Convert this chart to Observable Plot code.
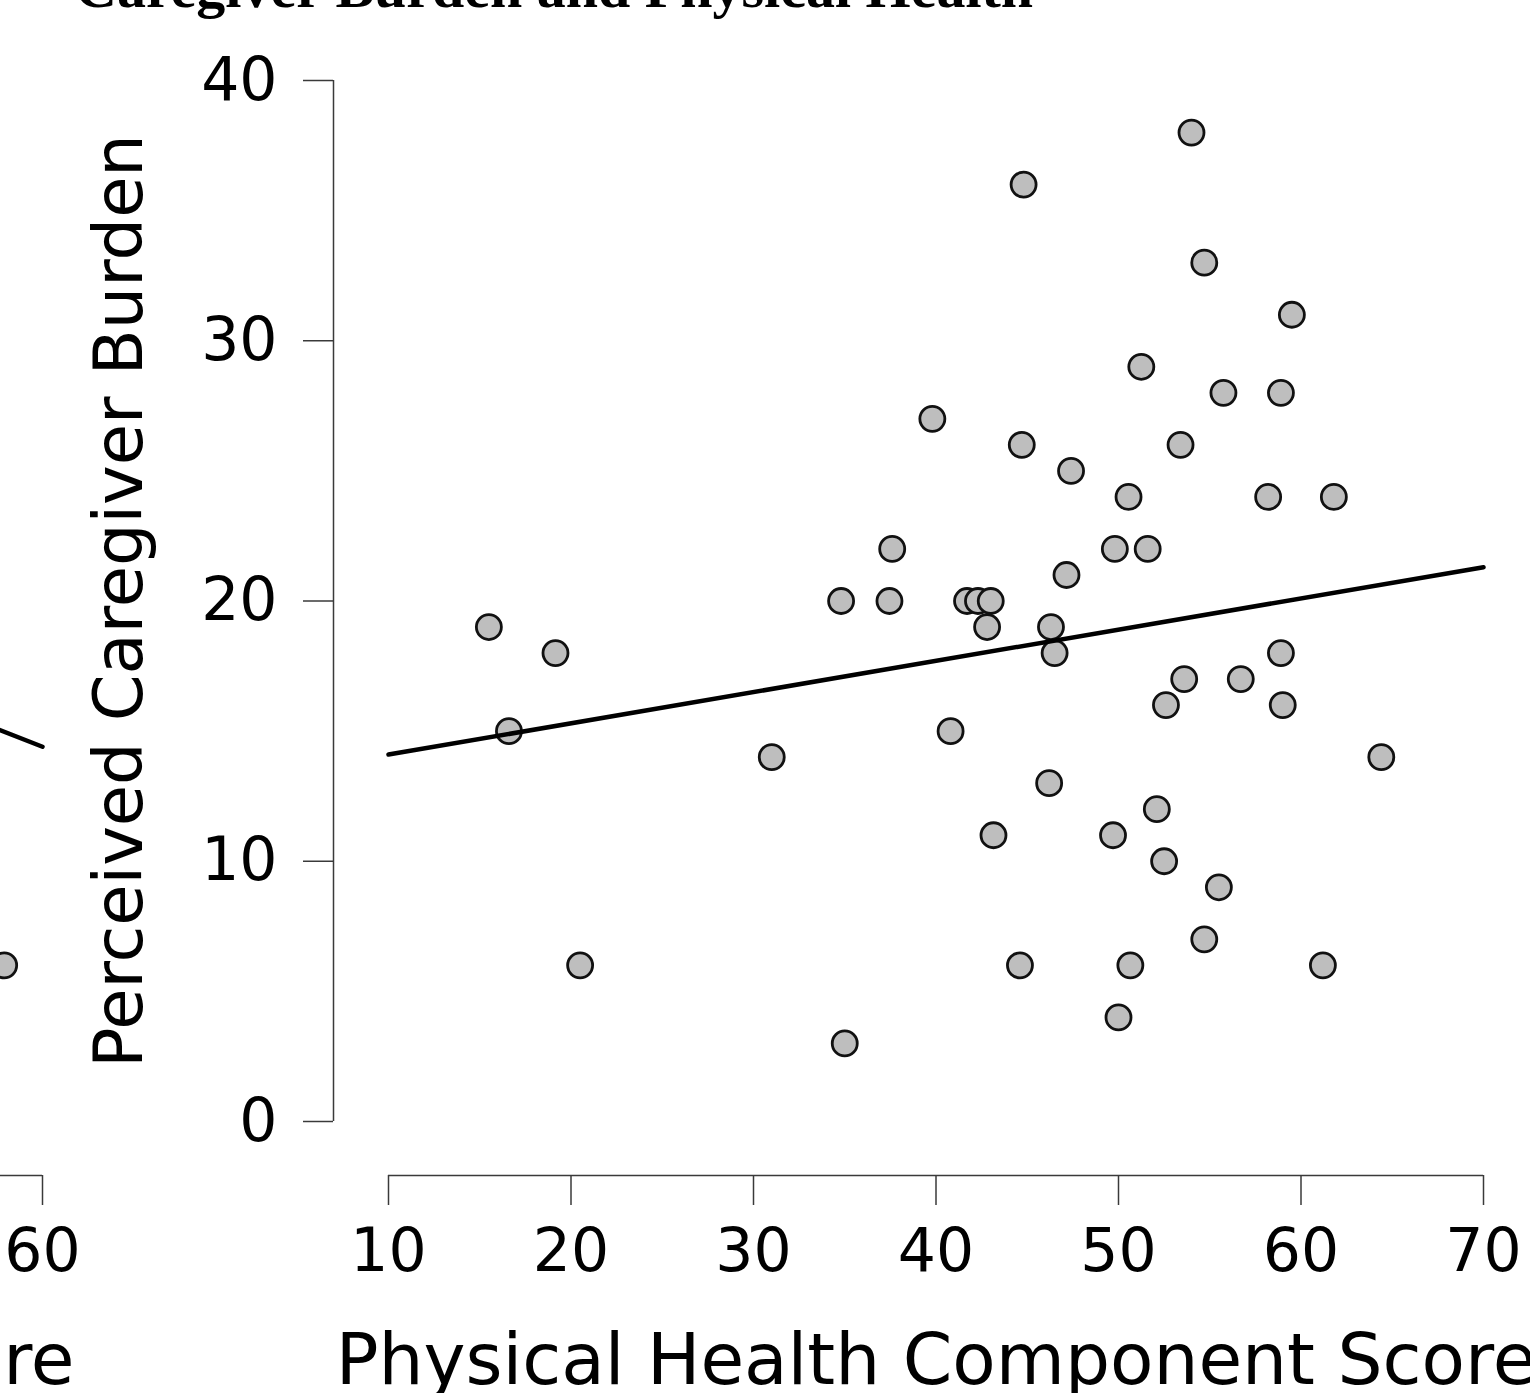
<!DOCTYPE html>
<html>
<head>
<meta charset="utf-8">
<script src="https://cdn.jsdelivr.net/npm/d3@7"></script>
<script src="https://cdn.jsdelivr.net/npm/@observablehq/plot@0.6"></script>
<style>
  body { margin: 0; background: #fff; }
  #wrap { position: relative; width: 1530px; height: 1393px; overflow: hidden; background: #fff; }
  #title { position: absolute; left: 75px; top: -41px; font: bold 58px "Liberation Serif", "Times New Roman", serif;
           line-height: 58px; white-space: nowrap; color: #000; z-index: 2; }
</style>
</head>
<body>
<div id="wrap"><div id="title">Caregiver Burden and Physical Health</div></div>
<script>
// ---- main panel data ----
const physicalScore = [15.5, 16.6, 19.15, 20.5, 31.0, 34.8, 35.0, 37.45, 37.6, 39.8,
  40.8, 41.7, 42.3, 43.0, 42.8, 43.15, 44.7, 44.8, 44.6, 46.2,
  46.3, 46.5, 47.15, 47.4, 49.7, 49.8, 50.0, 50.55, 50.65, 51.25,
  51.6, 52.1, 52.5, 52.6, 53.4, 53.6, 54.0, 54.7, 54.7, 55.5,
  55.75, 56.7, 58.2, 58.9, 58.9, 59.0, 59.5, 61.2, 61.8, 64.4];
const caregiverBurden = [19, 15, 18, 6, 14, 20, 3, 20, 22, 27,
  15, 20, 20, 20, 19, 11, 26, 36, 6, 13,
  19, 18, 21, 25, 11, 22, 4, 24, 6, 29,
  22, 12, 10, 16, 26, 17, 38, 33, 7, 9,
  28, 17, 24, 28, 18, 16, 31, 6, 24, 14];
const xTicks = [10, 20, 30, 40, 50, 60, 70];
const yTicks = [0, 10, 20, 30, 40];
const xDomain = [10, 70];
const yDomain = [0, 40];
const fitX = [10, 70];
const fitY = [14.1, 21.3];
const xLabel = "Physical Health Component Score";
const yLabel = "Perceived Caregiver Burden";

// ---- neighbouring panel (only its right edge is visible) ----
const mentalDomain = [20, 60];
const mentalTicks = [60];
const mentalScore = [58.6];
const mentalBurden = [6];
const mentalFitX = [50, 60];
const mentalFitY = [18.5, 14.4];
const mentalLabel = "Mental Health Component Score";

const W = 1530, H = 1393;
const FONT = "'DejaVu Sans', Verdana, sans-serif";
const axisStroke = "#3a3a3a";

function panel(opts) {
  const pts = opts.xs.map((x, i) => ({x, y: opts.ys[i]}));
  const fit = opts.fitX.map((x, i) => ({x, y: opts.fitY[i]}));
  const marks = [];
  if (opts.yAxis) {
    marks.push(
      Plot.axisY({ticks: yTicks, tickSize: 30, tickPadding: 26, fontSize: 60, label: null,
                  stroke: axisStroke, strokeWidth: 1.5}),
      Plot.ruleX([opts.xDomain[0]], {y1: yDomain[0], y2: yDomain[1], dx: -55, stroke: axisStroke, strokeWidth: 1.5}),
      Plot.text([yLabel], {frameAnchor: "left", y: () => d3.mean(yDomain), rotate: -90, dx: -239,
                           textAnchor: "middle", lineAnchor: "top", fontSize: 67})
    );
  }
  marks.push(
    Plot.axisX({ticks: opts.ticks, tickSize: 30, tickPadding: 23, fontSize: 60, label: null,
                stroke: axisStroke, strokeWidth: 1.5}),
    Plot.ruleY([yDomain[0]], {x1: opts.xDomain[0], x2: opts.xDomain[1], dy: 54, stroke: axisStroke, strokeWidth: 1.5}),
    Plot.dot(pts, {x: "x", y: "y", r: 12.5, fill: "#bebebe", stroke: "#111", strokeWidth: 2.8}),
    Plot.line(fit, {x: "x", y: "y", stroke: "#000", strokeWidth: 4.5}),
    Plot.text([opts.label], {frameAnchor: "bottom", x: () => d3.mean(opts.xDomain), dy: 158, dx: opts.labelDx || 0,
                             textAnchor: "middle", lineAnchor: "top", fontSize: 71})
  );
  return Plot.plot({
    width: W, height: H,
    marginLeft: 333, marginRight: 47, marginTop: 80, marginBottom: 218,
    x: {domain: opts.xDomain, range: [388, 1483]},
    y: {domain: yDomain, range: [1121, 80]},
    style: {position: "absolute", top: "0px", left: opts.left + "px", background: "transparent",
            fontFamily: FONT, color: "#000", overflow: "visible"},
    marks
  });
}

const wrap = document.getElementById("wrap");
wrap.appendChild(panel({xs: mentalScore, ys: mentalBurden, fitX: mentalFitX, fitY: mentalFitY,
  xDomain: mentalDomain, ticks: mentalTicks, label: mentalLabel, yAxis: false, left: -1441, labelDx: 3}));
wrap.appendChild(panel({xs: physicalScore, ys: caregiverBurden, fitX, fitY,
  xDomain, ticks: xTicks, label: xLabel, yAxis: true, left: 0}));
</script>
</body>
</html>
